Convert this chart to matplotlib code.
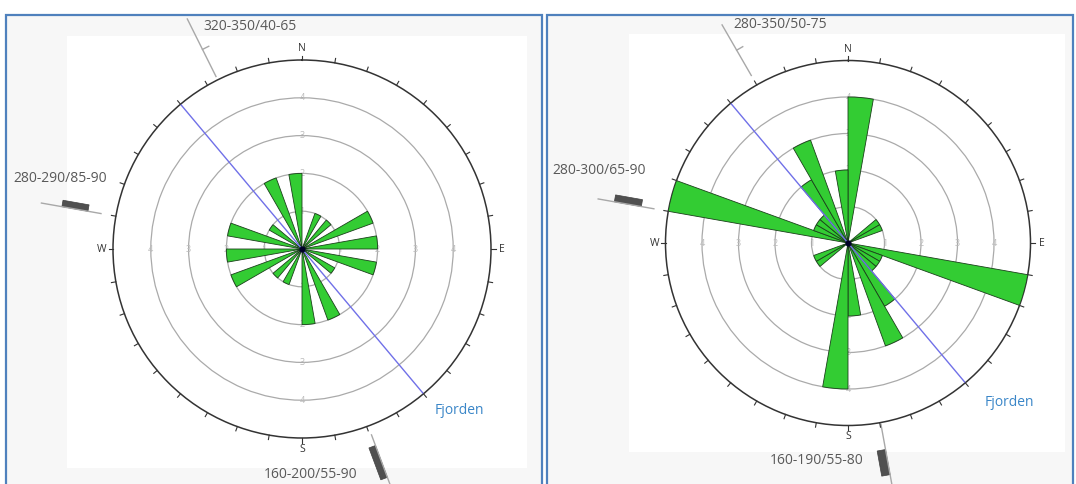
import numpy as np
import matplotlib.pyplot as plt
from matplotlib.patches import Rectangle, Polygon

plt.rcParams['font.family'] = ['Open Sans', 'DejaVu Sans']

W, H = 1076, 484

# strike counts per 10 degree bin (0-10, 10-20, ... 170-180), bidirectional rose
bin_start = np.arange(0, 180, 10)
left_counts = [0, 0, 1, 0, 1, 0, 2, 0, 2, 0, 2, 0, 1, 0, 0, 2, 0, 2]
right_counts = [4, 0, 0, 0, 0, 1, 1, 0, 0, 0, 5, 1, 1, 1, 2, 3, 0, 2]

fjord_strike = 320
ring_values = [1, 2, 3, 4]
r_max = 5

left_labels = ['320-350/40-65', '280-290/85-90', '160-200/55-90']
right_labels = ['280-350/50-75', '280-300/65-90', '160-190/55-80']

# layout: rose centre (px), px per unit
left_c = (302, 249, 37.8)
right_c = (848, 243, 36.5)

fig = plt.figure(figsize=(W / 100, H / 100), dpi=100)
fig.patch.set_facecolor('white')

bg = fig.add_axes([0, 0, 1, 1], zorder=0)
bg.set_xlim(0, W)
bg.set_ylim(H, 0)
bg.set_axis_off()

# panel frames
bg.add_patch(Rectangle((6, 15), 536, 480, facecolor='#f7f7f7', edgecolor='#4f81bd', lw=1.6))
bg.add_patch(Rectangle((547, 15), 526, 480, facecolor='#f7f7f7', edgecolor='#4f81bd', lw=1.6))
bg.add_patch(Rectangle((67, 36), 460, 432, facecolor='white', edgecolor='none'))
bg.add_patch(Rectangle((629, 34), 436, 418, facecolor='white', edgecolor='none'))


def to_px(c, az, r):
    cx, cy, u = c
    a = np.radians(az)
    return cx + r * u * np.sin(a), cy - r * u * np.cos(a)


def strike_symbol(c, az, r0, r1, kind, a0, a1=None, w=7):
    x0, y0 = to_px(c, az, r0)
    x1, y1 = to_px(c, az, r1)
    bg.plot([x0, x1], [y0, y1], color='#a8a8a8', lw=1.0)
    p = np.radians(az + 90)
    px, py = np.sin(p), -np.cos(p)
    if kind == 'tick':
        tx, ty = to_px(c, az, a0)
        bg.plot([tx, tx + 7 * px], [ty, ty + 7 * py], color='#a8a8a8', lw=1.0)
    else:
        ax_, ay_ = to_px(c, az, a0)
        bx_, by_ = to_px(c, az, a1)
        pts = [(ax_, ay_), (bx_, by_), (bx_ + w * px, by_ + w * py), (ax_ + w * px, ay_ + w * py)]
        bg.add_patch(Polygon(pts, closed=True, facecolor='#505050', edgecolor='#404040', lw=0.5))


def rose(c, counts):
    cx, cy, u = c
    R = r_max * u
    ax = fig.add_axes([(cx - R) / W, (H - cy - R) / H, 2 * R / W, 2 * R / H],
                      projection='polar', zorder=1)
    ax.set_theta_zero_location('N')
    ax.set_theta_direction(-1)
    ax.set_ylim(0, r_max)

    theta = np.radians(np.concatenate([bin_start, bin_start + 180]) + 5)
    vals = list(counts) + list(counts)
    ax.bar(theta, vals, width=np.radians(10), bottom=0, color='#33cc33',
           edgecolor='#1a401a', lw=0.6, zorder=3)
    ax.plot([0], [0], 'o', color='#000028', ms=3.5, zorder=5)

    f = np.radians(fjord_strike)
    ax.plot([f, 0, f - np.pi], [r_max, 0, r_max], color='#7070e8', lw=1.0, zorder=4)

    ax.set_rgrids(ring_values, labels=[''] * len(ring_values))
    ax.yaxis.grid(True, color='#aaaaaa', lw=0.9)
    ax.xaxis.grid(False)
    for a in [0, 90, 180, 270]:
        for r in ring_values:
            ax.text(np.radians(a), r, str(r), color='#bbbbbb', fontsize=6.5,
                    ha='center', va='center', zorder=2)

    # outward ticks every 10 degrees on the rim
    ticks = np.arange(0, 360, 10)
    tick_len = 4.5 / u
    for t in ticks:
        ax.plot([np.radians(t)] * 2, [r_max, r_max + tick_len], color='#333333',
                lw=0.8, clip_on=False, zorder=4)

    names = {0: 'N', 90: 'E', 180: 'S', 270: 'W'}
    ax.set_xticks(np.radians(ticks))
    ax.set_xticklabels([names.get(t, '') for t in ticks])
    ax.tick_params(axis='x', length=0, colors='#333333', pad=1, labelsize=7.5)
    ax.spines['polar'].set_color('#333333')
    ax.spines['polar'].set_linewidth(1.1)
    return ax


rose(left_c, left_counts)
rose(right_c, right_counts)

# strike/dip symbols
strike_symbol(left_c, 333.5, 5.1, 6.8, 'tick', 5.9)
strike_symbol(left_c, 280, 5.4, 7.0, 'rect', 5.75, 6.45, w=6.5)
strike_symbol(left_c, 159.5, 5.25, 6.75, 'rect', 5.55, 6.45, w=7)
strike_symbol(right_c, 330, 5.3, 6.9, 'tick', 6.1)
strike_symbol(right_c, 280, 5.4, 6.95, 'rect', 5.75, 6.5, w=7)
strike_symbol(right_c, 169.7, 5.05, 6.8, 'rect', 5.75, 6.45, w=8.5)

txt = dict(color='#595959', fontsize=10, ha='center', va='center')
bg.text(250, 27, left_labels[0], **txt)
bg.text(60, 178, left_labels[1], **txt)
bg.text(311, 474, left_labels[2], **txt)
bg.text(780, 25, right_labels[0], **txt)
bg.text(599, 171, right_labels[1], **txt)
bg.text(817, 460, right_labels[2], **txt)

fj = dict(color='#3a86c8', fontsize=10, ha='center', va='center')
bg.text(459, 410, 'Fjorden', **fj)
bg.text(1009, 402, 'Fjorden', **fj)

fig.savefig('out.png', dpi=100)
